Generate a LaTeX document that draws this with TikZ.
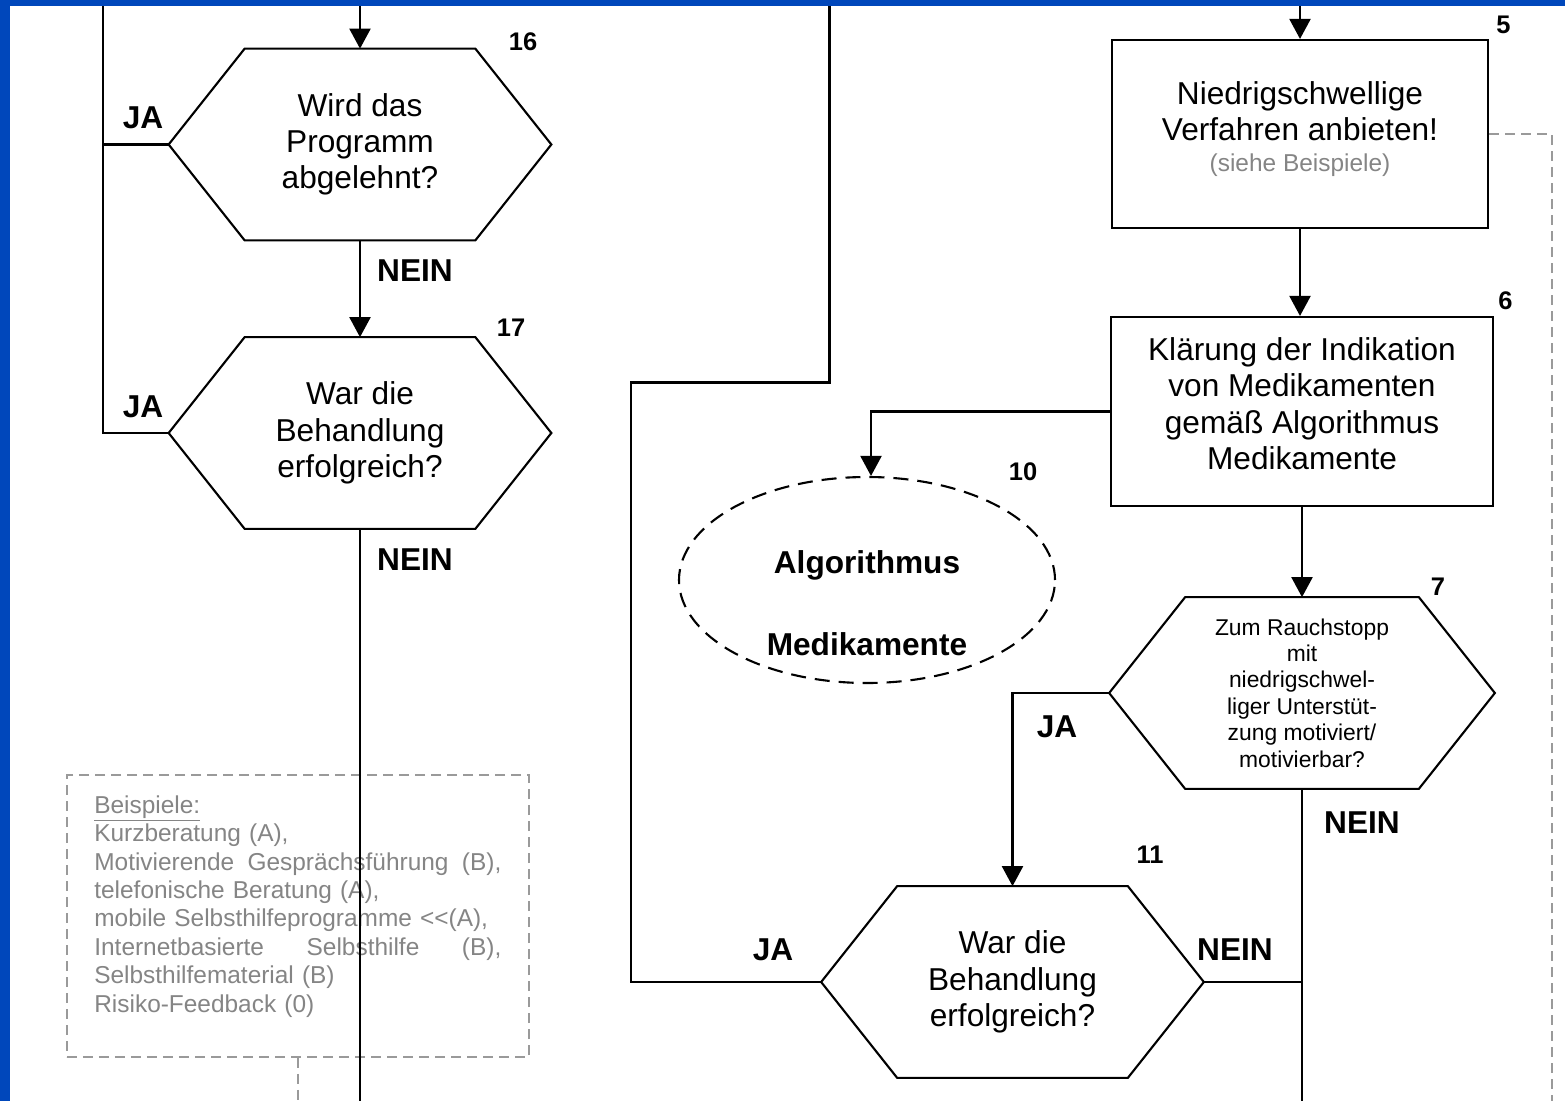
\documentclass[tikz,border=0pt]{standalone}
\usepackage{fontspec}
\setmainfont{Liberation Sans}
\usetikzlibrary{positioning,shapes.geometric,arrows.meta}

\definecolor{slideblue}{HTML}{0047BB}
\definecolor{bspgray}{HTML}{858585}
\definecolor{dashgray}{HTML}{9A9A9A}

\tikzset{
  flow/.style={line width=1.2pt},
  pfeil/.style={flow,-{Triangle[length=4mm,width=4.2mm]}},
  frage/.style={align=center, minimum width=7.64cm, minimum height=3.82cm, inner sep=0pt,
    font=\fontsize{18}{20.6}\selectfont,
    append after command={\pgfextra{\let\hexnode\tikzlastnode
      \draw[flow] (\hexnode.west) -- ([xshift=1.52cm]\hexnode.north west)
        -- ([xshift=-1.52cm]\hexnode.north east) -- (\hexnode.east)
        -- ([xshift=-1.52cm]\hexnode.south east) -- ([xshift=1.52cm]\hexnode.south west) -- cycle;}}},
  kasten/.style={draw, flow, align=center, minimum width=7.64cm, minimum height=3.78cm,
    font=\fontsize{18}{20.6}\selectfont},
  antwort/.style={font=\fontsize{18}{20}\selectfont\bfseries, inner sep=0pt},
  nummer/.style={font=\fontsize{14.5}{16}\selectfont\bfseries, inner sep=0pt},
  beisp/.style={draw=dashgray, line width=1pt, dash pattern=on 2mm off 1.2mm},
}

\begin{document}
\begin{tikzpicture}[x=0.2mm,y=-0.2mm]
  \useasboundingbox (0,0) rectangle (1565,1101);
  \fill[white] (0,0) rectangle (1565,1101);

  % linke Spalte
  \node[frage] (h16) at (360,144.5) {Wird das\\Programm\\abgelehnt?};
  \node[frage] (h17) at (360,433) {War die\\Behandlung\\erfolgreich?};

  \node[beisp, minimum width=9.24cm, minimum height=5.64cm] (bsp) at (298,916) {};
  \node[anchor=north west, align=left, text width=8.14cm, inner sep=0pt, text=bspgray,
    font=\fontsize{13.9}{16.2}\selectfont] (bsptxt) at (94,795) {%
    \underline{Beispiele:}\\
    Kurzberatung (A),\\
    Motivierende\hfill Gesprächsführung\hfill (B),\\
    telefonische Beratung (A),\\
    mobile Selbsthilfeprogramme <\kern0pt<\kern0pt(A),\\
    Internetbasierte\hfill Selbsthilfe\hfill (B),\\
    Selbsthilfematerial (B)\\
    Risiko-Feedback (0)};

  % rechte Spalte
  \node[kasten, minimum width=7.52cm, minimum height=3.76cm, text depth=0.3cm] (box5) at (1300,134)
    {Niedrigschwellige\\Verfahren anbieten!\\[-2.8pt]{\fontsize{13.9}{16}\selectfont\color{bspgray}(siehe Beispiele)}};
  \node[kasten, text depth=0.32cm] (box6) at (1302,411.5)
    {Klärung der Indikation\\von Medikamenten\\gemäß Algorithmus\\Medikamente};
  \node[ellipse, draw, flow, dash pattern=on 3mm off 1.8mm, minimum width=7.52cm,
    minimum height=4.12cm] (ell10) at (867,580) {};
  \node[align=center, font=\fontsize{18}{46.7}\selectfont\bfseries] (ell10txt) at (867,603)
    {Algorithmus\\Medikamente};
  \node[frage, minimum width=7.7cm, font=\fontsize{13}{15}\selectfont] (h7) at (1302,693)
    {Zum Rauchstopp\\mit\\niedrigschwel-\\liger Unterstüt-\\zung motiviert/\\motivierbar?};
  \node[frage] (h11) at (1012.5,982) {War die\\Behandlung\\erfolgreich?};

  % Hilfspunkte
  \coordinate (oben16) at (360,0);
  \coordinate (oben5) at (1300,0);
  \coordinate (jalinie) at (103,0);
  \coordinate (mitte1) at (631,382.5);
  \coordinate (mitte2) at (829.5,0);
  \coordinate (unten) at (0,1101);
  \coordinate (rechts) at (1552,1101);

  % Verbindungen
  \draw[pfeil] (oben16) -- (h16.north);
  \draw[pfeil] (h16.south) -- (h17.north);
  \draw[flow] (h16.west) -- (h16.west -| jalinie);
  \draw[flow] (h17.west) -| (jalinie);
  \draw[beisp] (bsp.south) -- (bsp.south |- unten);
  \draw[flow] (h17.south) -- (h17.south |- unten);
  \draw[flow] (h11.west) -| (mitte1) -| (mitte2);
  \draw[pfeil] (oben5) -- (box5.north);
  \draw[pfeil] (box5.south) -- (box5.south |- box6.north);
  \draw[beisp] (box5.east) -| (rechts);
  \draw[pfeil] (box6.west) -| ([xshift=0.08cm]ell10.north);
  \draw[pfeil] (box6.south) -- (h7.north);
  \draw[pfeil] (h7.west) -| (h11.north);
  \draw[flow] (h7.south) -- (h7.south |- unten);
  \draw[flow] (h11.east) -- (h11.east -| h7.south);

  % JA / NEIN
  \node[antwort] (ja16) at (143,118) {JA};
  \node[antwort] (ja17) at (143,407) {JA};
  \node[antwort] (nein16) at (415,271) {NEIN};
  \node[antwort] (nein17) at (415,560) {NEIN};
  \node[antwort] (ja7) at (1057,727) {JA};
  \node[antwort] (nein7) at (1362,823) {NEIN};
  \node[antwort] (ja11) at (773,950) {JA};
  \node[antwort] (nein11) at (1235,950) {NEIN};

  % Nummern
  \node[nummer] (n16) at (523,42) {16};
  \node[nummer] (n17) at (511,328) {17};
  \node[nummer, above right=0.1cm and 0.14cm of box5.north east] (n5) {5};
  \node[nummer, above right=0.12cm and 0.08cm of box6.north east] (n6) {6};
  \node[nummer] (n10) at (1023,472) {10};
  \node[nummer] (n7) at (1438,587) {7};
  \node[nummer] (n11) at (1150,855) {11};

  % Folienrand
  \fill[slideblue] (0,0) rectangle (10,1101);
  \fill[slideblue] (0,0) rectangle (1565,6);
\end{tikzpicture}
\end{document}
